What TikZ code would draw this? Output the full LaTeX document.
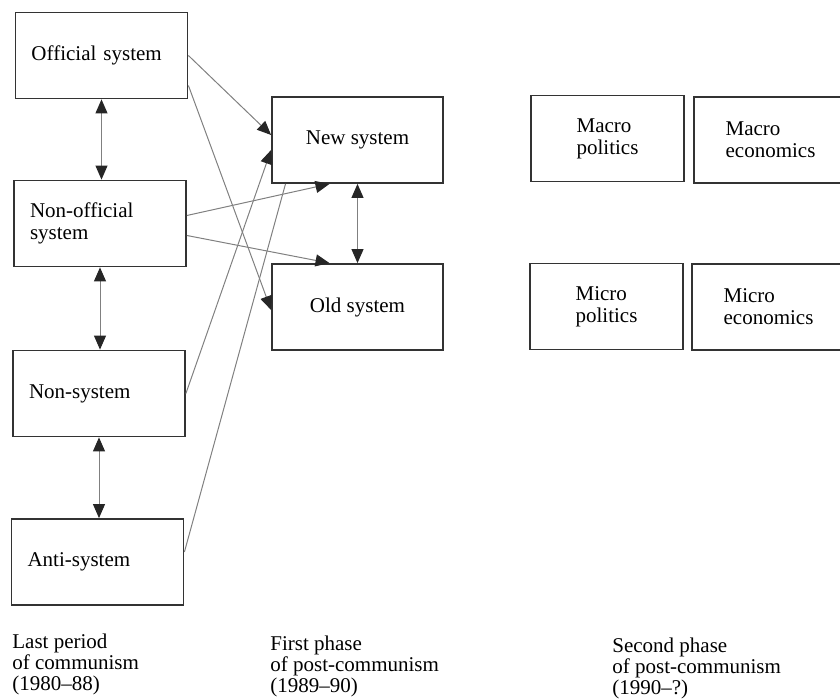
\documentclass[tikz,border=0pt]{standalone}
\usepackage{fontspec}
\setmainfont{Liberation Serif}
\usetikzlibrary{arrows.meta}

\tikzset{
  box/.style={draw=black!80,line width=0.9pt,rectangle,minimum height=43pt,
    inner sep=0pt,font=\fontsize{10.5}{11}\selectfont},
  leftbox/.style={box,text width=70pt,inner xsep=8pt,align=left},
  midbox/.style={box,minimum width=85.5pt,align=center},
  rightbox/.style={box,minimum width=76.5pt,align=left},
  link/.style={draw=black!50,line width=0.5pt},
  arr/.style={-{Triangle[length=7pt,width=6pt,color=black!85]}},
  dbl/.style={{Triangle[length=7pt,width=6pt,color=black!85]}-{Triangle[length=7pt,width=6pt,color=black!85]}},
  period/.style={anchor=north west,inner sep=0pt,align=left,
    font=\fontsize{10.5}{10.5}\selectfont}
}

\begin{document}
\begin{tikzpicture}[x=0.5pt,y=-0.5pt]
  \useasboundingbox (0,0) rectangle (840,699);
  \clip (0,0) rectangle (840,699);
    % last period of communism
    \node[leftbox] (Off) at (101.5,55.5) {Official system};
    \node[leftbox] (NonOff) at (100,223.5) {Non-official\\system};
    \node[leftbox] (NonSys) at (99,393.5) {Non-system};
    \node[leftbox] (Anti) at (97.5,562) {Anti-system};
    % first phase
    \node[midbox] (New) at (357.5,140) {New system};
    \node[midbox] (Old) at (357.5,307) {Old system};
    % second phase
    \node[rightbox] (MacP) at (607.5,138.5) {Macro\\politics};
    \node[rightbox] (MacE) at (770.5,140) {Macro\\economics};
    \node[rightbox] (MicP) at (606.5,306.5) {Micro\\politics};
    \node[rightbox] (MicE) at (768.5,307) {Micro\\economics};
    % periods
    \node[period] (P1) at (12,634) {Last period\\of communism\\(1980--88)};
    \node[period] (P2) at (270,636) {First phase\\of post-communism\\(1989--90)};
    \node[period] (P3) at (612,638) {Second phase\\of post-communism\\(1990--?)};
    \path[link]
      (Off.east) edge[arr] ([yshift=2.5pt]New.west)
      ([yshift=-15pt]Off.east) edge[arr] ([yshift=-1.5pt]Old.west)
      ([yshift=4pt]NonOff.east) edge[arr] ([xshift=-14pt]New.south)
      ([yshift=-6pt]NonOff.east) edge[arr] ([xshift=-14pt]Old.north)
      (NonSys.east) edge[arr] ([yshift=-5pt]New.west)
      ([yshift=5pt]Anti.east) edge ([xshift=-36pt]New.south)
      (Off.south) edge[dbl] (Off.south |- NonOff.north)
      (NonOff.south) edge[dbl] (NonOff.south |- NonSys.north)
      (NonSys.south) edge[dbl] (NonSys.south |- Anti.north)
      (New.south) edge[dbl] (Old.north);
\end{tikzpicture}
\end{document}
